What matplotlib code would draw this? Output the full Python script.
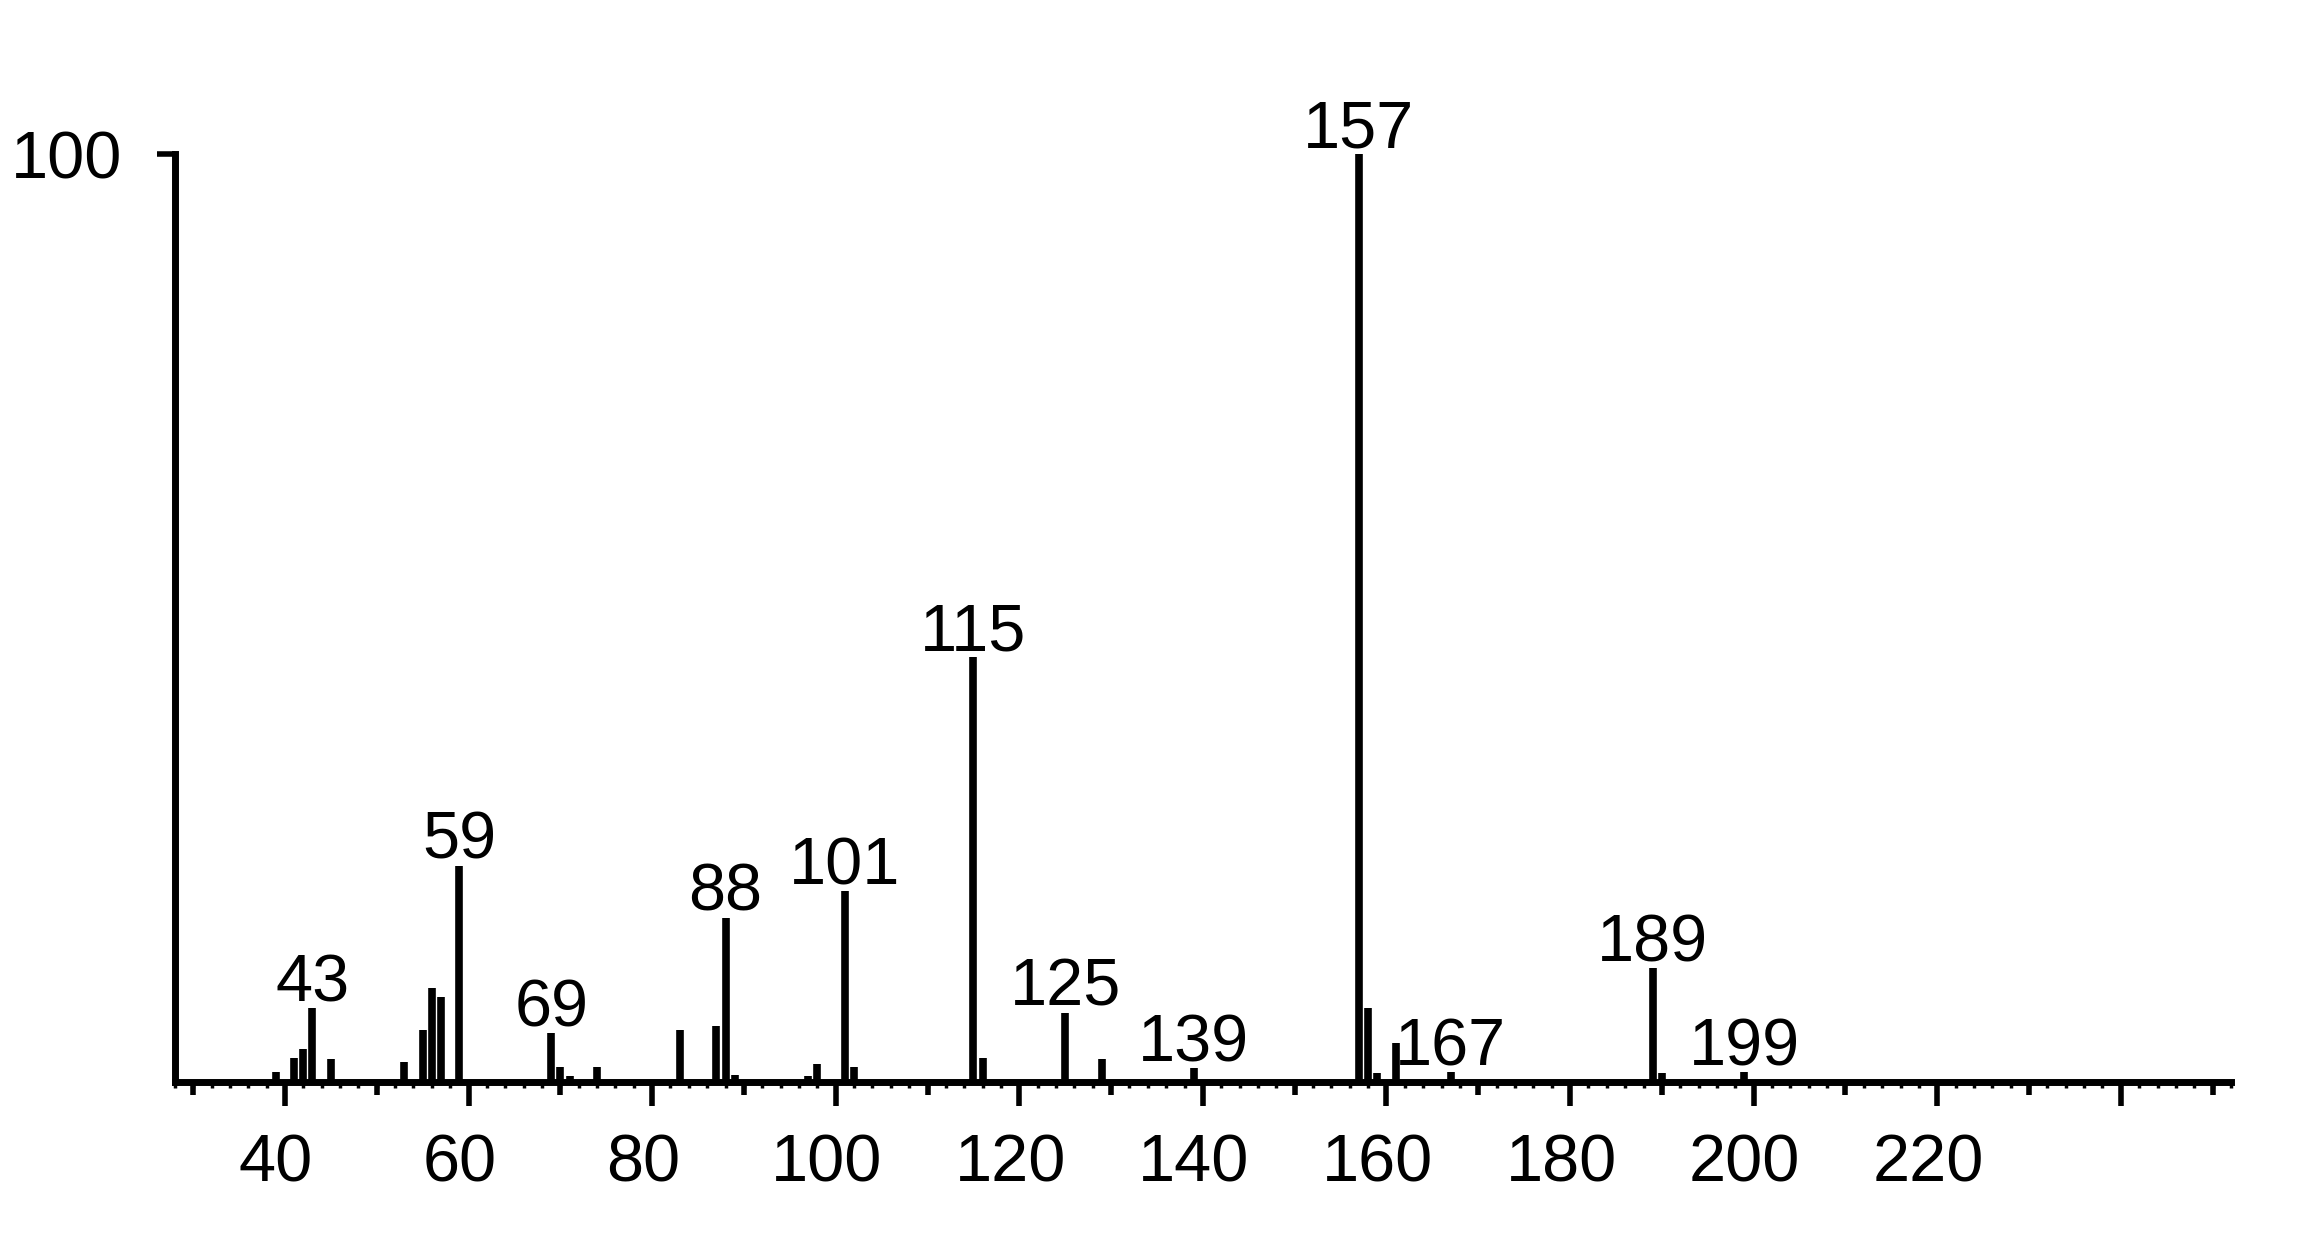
import numpy as np
import matplotlib
matplotlib.use("Agg")
import matplotlib.pyplot as plt
import matplotlib.transforms as mtransforms
from matplotlib.ticker import MultipleLocator, FixedLocator

plt.rcParams["font.family"] = ["Liberation Sans", "DejaVu Sans"]

# ── spectrum (m/z, relative intensity %) ─────────────────────────────────────
mz = [39, 41, 42, 43, 45, 53, 55, 56, 57, 59, 69, 70, 71, 74, 83, 87, 88, 89,
      97, 98, 101, 102, 115, 116, 125, 129, 139, 157, 158, 159, 161, 167,
      189, 190, 199]
intensity = [1.1, 2.6, 3.6, 8.0, 2.5, 2.2, 5.6, 10.1, 9.2, 23.3, 5.3, 1.6,
             0.7, 1.6, 5.6, 6.1, 17.7, 0.8, 0.7, 2.0, 20.6, 1.6, 45.8, 2.6,
             7.5, 2.5, 1.5, 100.0, 8.0, 1.0, 4.2, 1.1, 12.3, 1.0, 1.1]
labelled = [43, 59, 69, 88, 101, 115, 125, 139, 157, 167, 189, 199]
x_ticks = [40, 60, 80, 100, 120, 140, 160, 180, 200, 220]

FS = 48
LW = 5.5

fig = plt.figure(figsize=(23, 12.54), dpi=100)
ax = fig.add_axes([0.076, 0.137, 0.894, 0.829])

ax.vlines(mz, 0, intensity, colors="black", lw=LW)

peak = dict(zip(mz, intensity))
for m in labelled:
    ax.annotate(str(m), (m, peak[m]), xytext=(0, 5), textcoords="offset points",
                ha="center", va="baseline", fontsize=FS, clip_on=False)

ax.set_xlim(28, 252)
ax.set_ylim(0, 112)

for s in ("top", "right"):
    ax.spines[s].set_visible(False)
for s in ("left", "bottom"):
    ax.spines[s].set_linewidth(5)
ax.spines["left"].set_bounds(0, 100)

# x: labelled majors every 20, short minors every 2
ax.xaxis.set_major_locator(FixedLocator(x_ticks + [240]))
ax.set_xticklabels([str(t) for t in x_ticks] + [""])
ax.xaxis.set_minor_locator(MultipleLocator(2))
ax.tick_params(axis="x", which="major", direction="out", length=17, width=4,
               pad=20, labelsize=FS)
ax.tick_params(axis="x", which="minor", direction="out", length=4, width=2.5)
# tick labels sit a little left of their ticks in the original
shift = mtransforms.ScaledTranslation(-9 / 100, 0, fig.dpi_scale_trans)
for lbl in ax.get_xticklabels():
    lbl.set_transform(lbl.get_transform() + shift)

# medium ticks at the odd tens
sec = ax.secondary_xaxis("bottom")
sec.spines["bottom"].set_visible(False)
sec.xaxis.set_major_locator(FixedLocator(np.arange(30, 251, 20)))
sec.tick_params(axis="x", direction="out", length=9, width=4, labelbottom=False)

# y: only the 100 mark
ax.set_yticks([100])
ax.set_yticklabels(["100"])
ax.tick_params(axis="y", direction="out", length=13, width=4, pad=25,
               labelsize=FS)

fig.savefig("out.png", dpi=100)
